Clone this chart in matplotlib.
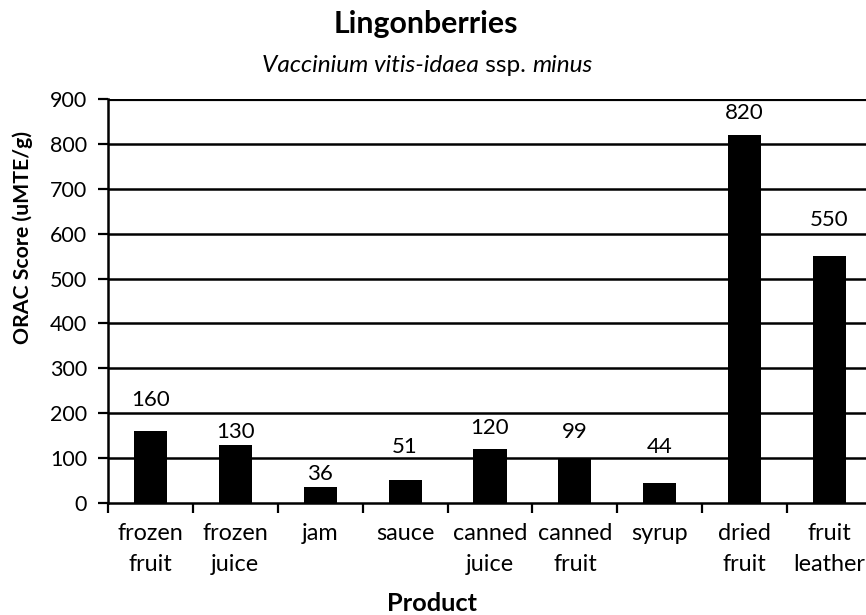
import matplotlib
matplotlib.use("Agg")
import matplotlib.pyplot as plt
from matplotlib.transforms import blended_transform_factory

plt.rcParams['font.family'] = ['Lato', 'DejaVu Sans']

categories = ["frozen\nfruit", "frozen\njuice", "jam", "sauce", "canned\njuice",
              "canned\nfruit", "syrup", "dried\nfruit", "fruit\nleather"]
values = [160, 130, 36, 51, 120, 99, 44, 820, 550]
value_labels = ["160", "130", "36", "51", "120", "99", "44", "820", "550"]
# vertical offset of each value label above its bar (data units)
label_offsets = [69, 28, 29, 74, 47, 59, 81, 49, 80]
yticks = [0, 100, 200, 300, 400, 500, 600, 700, 800, 900]

W, H = 866, 615
fig = plt.figure(figsize=(W / 100, H / 100), dpi=100)
ax = fig.add_axes([108 / W, 1 - 503 / H, (872 - 108) / W, (503 - 99) / H])

x = list(range(len(categories)))
ax.bar(x, values, width=0.39, color='black', zorder=3)
ax.set_xlim(-0.5, len(categories) - 0.5)
ax.set_ylim(0, 900)
ax.set_yticks(yticks)
ax.set_yticklabels([str(t) for t in yticks], fontsize=15.5)
for t in yticks[1:]:
    ax.axhline(t, color='black', lw=1.8 if t < 900 else 3.0, zorder=1)

ax.set_xticks([i - 0.5 for i in range(len(categories) + 1)])
ax.set_xticklabels([])
ax.tick_params(axis='x', length=7, width=1.6, direction='out')
ax.tick_params(axis='y', length=7, width=1.6, direction='out', pad=8)

trans = blended_transform_factory(ax.transData, fig.transFigure)
for i, c in enumerate(categories):
    for j, line in enumerate(c.split("\n")):
        base = 540 + 31 * j
        ax.text(i, 1 - base / H, line, ha='center', va='baseline', fontsize=16.8,
                transform=trans)

for i, (v, lab, off) in enumerate(zip(values, value_labels, label_offsets)):
    ax.text(i, v + off, lab, ha='center', va='center', fontsize=16)

for s in ['right', 'top']:
    ax.spines[s].set_visible(False)
ax.spines['left'].set_linewidth(1.8)
ax.spines['bottom'].set_linewidth(1.8)

ax.set_ylabel("ORAC Score (uMTE/g)", fontsize=15.3, fontweight='bold')
ax.yaxis.set_label_coords(-(108 - 23) / (872 - 108), (503 - 238) / (503 - 99))
ax.yaxis.label.set_va('center')

fig.text(432 / W, 1 - 611 / H, "Product", ha='center', va='baseline', fontsize=18.3, fontweight='bold')
fig.text(426 / W, 1 - 33 / H, "Lingonberries", ha='center', va='baseline', fontsize=21.8, fontweight='bold')

# subtitle with mixed italic / normal
parts = [("Vaccinium vitis-idaea", 'italic'), (" ssp. ", 'normal'), ("minus", 'italic')]
fig.canvas.draw()
r = fig.canvas.get_renderer()
texts = []
widths = []
for s, st in parts:
    t = fig.text(0, 1 - 72 / H, s, fontsize=17.6, style=st, ha='left', va='baseline')
    texts.append(t)
    widths.append(t.get_window_extent(r).width)
total = sum(widths)
xpos = 427 - total / 2
for t, w in zip(texts, widths):
    t.set_x(xpos / W)
    xpos += w

fig.savefig("out.png", dpi=100)
